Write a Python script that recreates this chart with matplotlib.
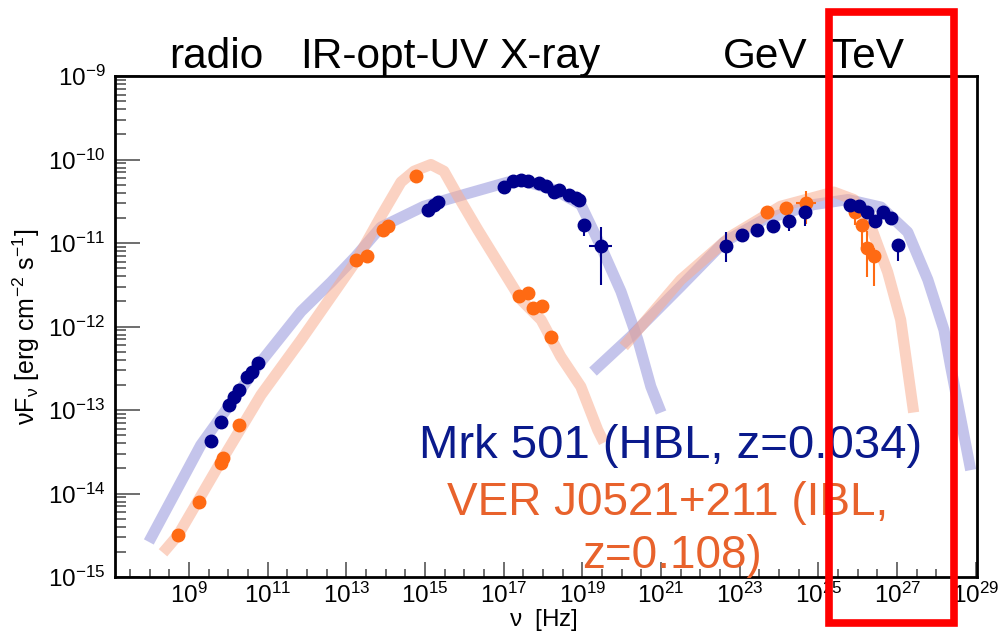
import numpy as np
import matplotlib
matplotlib.use("Agg")
import matplotlib.pyplot as plt
from matplotlib.patches import Rectangle
from matplotlib.ticker import LogLocator, FixedLocator, NullFormatter

plt.rcParams['font.family'] = ['Liberation Sans', 'DejaVu Sans']
plt.rcParams['mathtext.fontset'] = 'custom'
plt.rcParams['mathtext.rm'] = 'Liberation Sans'
plt.rcParams['mathtext.it'] = 'Liberation Sans'
plt.rcParams['mathtext.default'] = 'regular'

# data, as log10(nu [Hz]) and log10(nuFnu)
mrk_x = [9.56, 9.81, 10.02, 10.14, 10.27, 10.47, 10.60, 10.75,
         15.07, 15.23, 15.33, 17.01, 17.23, 17.44, 17.61, 17.89, 18.07,
         18.28, 18.40, 18.66, 18.83, 18.91, 19.04, 19.47,
         22.65, 23.05, 23.43, 23.84, 24.25, 24.65,
         25.80, 26.03, 26.23, 26.43, 26.64, 26.84, 27.02]
mrk_y = [-13.37, -13.14, -12.94, -12.85, -12.76, -12.61, -12.54, -12.44,
         -10.60, -10.54, -10.51, -10.33, -10.26, -10.25, -10.26, -10.28, -10.32,
         -10.39, -10.37, -10.42, -10.46, -10.48, -10.79, -11.03,
         -11.03, -10.90, -10.85, -10.80, -10.74, -10.63,
         -10.55, -10.56, -10.63, -10.74, -10.63, -10.70, -11.02]
# error bars in dex (low, high), 0 where none is seen
mrk_ylo = [0]*22 + [0.13, 0.47, 0.20, 0, 0, 0, 0.12, 0.17, 0, 0, 0, 0, 0, 0, 0.20]
mrk_yhi = [0]*22 + [0.05, 0.22, 0.16, 0, 0, 0, 0.06, 0.07, 0, 0, 0, 0, 0, 0, 0.05]
mrk_xerr = [0]*23 + [0.29] + [0]*13

ver_x = [8.72, 9.25, 9.81, 9.86, 10.27, 13.24, 13.52, 13.93, 14.06, 14.77,
         17.39, 17.62, 17.74, 17.97, 18.20,
         23.69, 24.17, 24.68, 25.93, 26.10, 26.23, 26.41]
ver_y = [-14.50, -14.10, -13.64, -13.58, -13.18, -11.20, -11.15, -10.85, -10.80, -10.20,
         -11.64, -11.60, -11.78, -11.76, -12.13,
         -10.63, -10.58, -10.52, -10.63, -10.78, -11.06, -11.16]
ver_ylo = [0]*17 + [0.25, 0.15, 0.25, 0.35, 0.36]
ver_yhi = [0]*17 + [0.14, 0.05, 0.05, 0.20, 0.10]
ver_xerr = [0]*17 + [0.25, 0, 0, 0, 0]

# model bands
mrk_syn_x = [7.98, 9.30, 10.75, 11.85, 12.61, 13.24, 13.88, 14.97, 15.99, 17.11,
             17.51, 18.28, 18.96, 19.47, 19.98, 20.41, 20.74, 21.00]
mrk_syn_y = [-14.58, -13.42, -12.47, -11.82, -11.47, -11.16, -10.81, -10.56, -10.42, -10.27,
             -10.26, -10.36, -10.54, -11.04, -11.58, -12.16, -12.72, -13.03]
mrk_ic_x = [19.27, 20.23, 21.50, 22.60, 23.61, 24.88, 25.75, 26.59, 27.27, 27.78,
            28.19, 28.36, 28.87]
mrk_ic_y = [-12.54, -12.12, -11.52, -10.99, -10.72, -10.54, -10.48, -10.57, -10.87, -11.44,
            -12.04, -12.48, -13.72]
ver_syn_x = [8.34, 8.72, 9.81, 10.83, 11.85, 13.24, 13.88, 14.39, 14.72, 15.15,
             15.48, 15.84, 16.34, 16.85, 17.44, 17.95, 18.45, 18.96, 19.39, 19.55]
ver_syn_y = [-14.71, -14.50, -13.62, -12.82, -12.16, -11.22, -10.68, -10.27, -10.14, -10.06,
             -10.14, -10.44, -10.84, -11.23, -11.68, -11.92, -12.36, -12.72, -13.24, -13.39]
ver_ic_x = [20.05, 21.50, 22.77, 24.04, 25.39, 25.90, 26.33, 26.76, 27.09, 27.42]
ver_ic_y = [-12.24, -11.44, -10.92, -10.56, -10.39, -10.48, -10.80, -11.35, -11.92, -13.03]

bands = ["radio", "IR-opt-UV", "X-ray", "GeV", "TeV"]
band_px = [216, 394, 550, 765, 868]

blue = "#00008b"
orange = "#ff6a13"

W, H = 998, 635
fig = plt.figure(figsize=(W/100, H/100), dpi=100)
ax = fig.add_axes([115/W, 1-577/H, (977-115)/W, (577-76)/H])

for mx, my in [(mrk_syn_x, mrk_syn_y), (mrk_ic_x, mrk_ic_y)]:
    ax.plot(10**np.array(mx), 10**np.array(my), color="#9494dc", lw=8, alpha=0.55,
            solid_capstyle="butt", solid_joinstyle="round", zorder=2)
for mx, my in [(ver_syn_x, ver_syn_y), (ver_ic_x, ver_ic_y)]:
    ax.plot(10**np.array(mx), 10**np.array(my), color="#f9ad90", lw=8, alpha=0.55,
            solid_capstyle="butt", solid_joinstyle="round", zorder=2)

def points(lx, ly, lo, hi, xe, col):
    lx, ly = np.array(lx), np.array(ly)
    lo, hi, xe = np.array(lo), np.array(hi), np.array(xe)
    x, y = 10**lx, 10**ly
    yerr = [y - 10**(ly - lo), 10**(ly + hi) - y]
    xerr = [x - 10**(lx - xe), 10**(lx + xe) - x]
    ax.errorbar(x, y, yerr=yerr, xerr=xerr, fmt="o", color=col, ms=9,
                elinewidth=1.5, capsize=0, mec=col, zorder=3)

points(ver_x, ver_y, ver_ylo, ver_yhi, ver_xerr, orange)
points(mrk_x, mrk_y, mrk_ylo, mrk_yhi, mrk_xerr, blue)

ax.set_xscale("log")
ax.set_yscale("log")
ax.set_xlim(10**7.12, 10**29.03)
ax.set_ylim(1e-15, 1e-9)

ax.xaxis.set_major_locator(FixedLocator([10.0**k for k in range(9, 30, 2)]))
ax.xaxis.set_minor_locator(FixedLocator([10.0**k for k in range(8, 29, 2)]
                                        + [10.0**(k + 0.5) for k in range(7, 29)]))
ax.xaxis.set_minor_formatter(NullFormatter())
ax.yaxis.set_major_locator(LogLocator(base=10, numticks=10))
ax.yaxis.set_minor_locator(LogLocator(base=10, subs=np.arange(2, 10), numticks=10))
ax.yaxis.set_minor_formatter(NullFormatter())
ax.tick_params(which="both", direction="in", top=False, right=False, labelsize=17.5,
               color="#555555", width=1.2)
ax.tick_params(axis="x", which="major", length=11, pad=4)
ax.tick_params(axis="x", which="minor", length=6)
ax.tick_params(axis="y", which="major", length=18, pad=7)
ax.tick_params(axis="y", which="minor", length=8)
for s in ax.spines.values():
    s.set_linewidth(2)

fig.text(543/W, 1-633/H, r"$\nu$  [Hz]", fontsize=17.5, ha="center", va="bottom")
ax.set_ylabel(r"$\nu$F$_{\nu}$ [erg cm$^{-2}$ s$^{-1}$]", fontsize=18, labelpad=4)

for name, px in zip(bands, band_px):
    fig.text(px/W, 1-68/H, name, fontsize=30.5, ha="center", va="baseline")

fig.text(671/W, 1-458/H, "Mrk 501 (HBL, z=0.034)", fontsize=34, color="#0a1a8c",
         ha="center", va="baseline")
fig.text(668/W, 1-515/H, "VER J0521+211 (IBL,", fontsize=33, color="#e8622c",
         ha="center", va="baseline")
fig.text(672/W, 1-568/H, "z=0.108)", fontsize=33, color="#e8622c",
         ha="center", va="baseline")

fig.patches.append(Rectangle((829/W, 1-623/H), (954-829)/W, (623-12)/H,
                             transform=fig.transFigure, fill=False, ec="#ff0000",
                             lw=5.5, zorder=10))

fig.savefig("out.png", dpi=100)
